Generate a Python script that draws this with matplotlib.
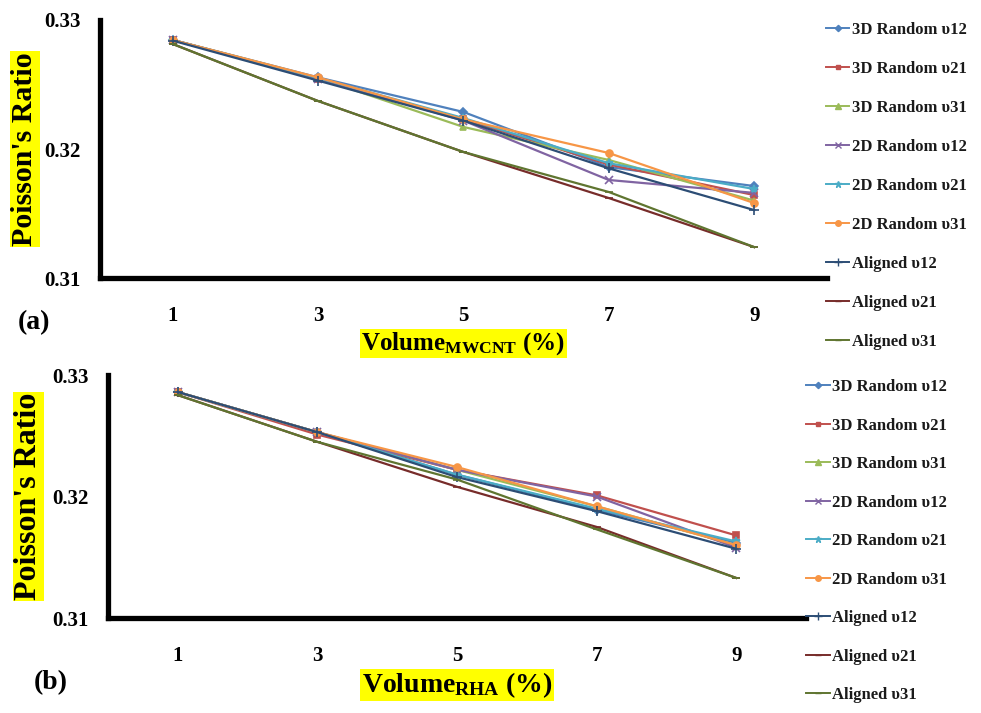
import numpy as np
import matplotlib
matplotlib.use("Agg")
import matplotlib.pyplot as plt
from matplotlib.lines import Line2D

plt.rcParams['font.family'] = ['Liberation Serif', 'DejaVu Serif']
plt.rcParams['font.weight'] = 'bold'
plt.rcParams['axes.labelweight'] = 'bold'
plt.rcParams['mathtext.fontset'] = 'custom'
plt.rcParams['mathtext.rm'] = 'Liberation Serif:bold'
plt.rcParams['mathtext.bf'] = 'Liberation Serif:bold'
plt.rcParams['mathtext.it'] = 'Liberation Serif:bold'

categories = ['1', '3', '5', '7', '9']
series_names = ['3D Random \u03c512', '3D Random \u03c521', '3D Random \u03c531',
                '2D Random \u03c512', '2D Random \u03c521', '2D Random \u03c531',
                'Aligned \u03c512', 'Aligned \u03c521', 'Aligned \u03c531']

# Panel (a): MWCNT
a_3d_v12 = [0.32845, 0.32555, 0.32287, 0.31860, 0.31713]
a_3d_v21 = [0.32845, 0.32545, 0.32230, 0.31880, 0.31643]
a_3d_v31 = [0.32845, 0.32550, 0.32171, 0.31915, 0.31600]
a_2d_v12 = [0.32845, 0.32545, 0.32220, 0.31760, 0.31660]
a_2d_v21 = [0.32845, 0.32550, 0.32240, 0.31890, 0.31690]
a_2d_v31 = [0.32845, 0.32555, 0.32230, 0.31969, 0.31581]
a_al_v12 = [0.32840, 0.32530, 0.32220, 0.31850, 0.31527]
a_al_v21 = [0.32814, 0.32372, 0.31977, 0.31620, 0.31240]
a_al_v31 = [0.32814, 0.32372, 0.31977, 0.31667, 0.31240]

# Panel (b): RHA
b_3d_v12 = [0.32860, 0.32530, 0.32180, 0.31890, 0.31620]
b_3d_v21 = [0.32860, 0.32510, 0.32220, 0.32010, 0.31680]
b_3d_v31 = [0.32860, 0.32530, 0.32220, 0.31920, 0.31600]
b_2d_v12 = [0.32860, 0.32530, 0.32220, 0.32000, 0.31580]
b_2d_v21 = [0.32860, 0.32530, 0.32180, 0.31900, 0.31630]
b_2d_v31 = [0.32860, 0.32530, 0.32243, 0.31920, 0.31600]
b_al_v12 = [0.32860, 0.32530, 0.32160, 0.31880, 0.31570]
b_al_v21 = [0.32835, 0.32450, 0.32080, 0.31750, 0.31330]
b_al_v31 = [0.32835, 0.32450, 0.32140, 0.31730, 0.31330]

panel_a = [a_3d_v12, a_3d_v21, a_3d_v31, a_2d_v12, a_2d_v21, a_2d_v31, a_al_v12, a_al_v21, a_al_v31]
panel_b = [b_3d_v12, b_3d_v21, b_3d_v31, b_2d_v12, b_2d_v21, b_2d_v31, b_al_v12, b_al_v21, b_al_v31]

colors = ['#4F81BD', '#C0504D', '#9BBB59', '#8064A2', '#4BACC6', '#F79646',
          '#2C4D75', '#772C2A', '#5F7530']
markers = ['D', 's', '^', 'x', '*', 'o', '+', '_', '_']
msizes = [4, 4, 5, 6, 6, 5, 7, 6, 6]

fig = plt.figure(figsize=(9.81, 7.13), dpi=100)

def draw(rect, data, xlab, panel_label, label_xy, legend_top, legend_x, spacing,
         ylab_x, ylab_size, xlab_size):
    ax = fig.add_axes(rect)
    x = np.arange(len(categories))
    for vals, c, m, ms, name in zip(data, colors, markers, msizes, series_names):
        ax.plot(x, vals, color=c, marker=m, markersize=ms, linewidth=1.6,
                markeredgewidth=1.2, label=name)
    ax.set_xlim(-0.5, 4.5)
    ax.set_ylim(0.31, 0.33)
    ax.set_yticks([0.31, 0.32, 0.33])
    ax.set_yticklabels(['0.31', '0.32', '0.33'])
    ax.set_xticks(x)
    ax.set_xticklabels(categories)
    ax.tick_params(length=0, labelsize=15)
    ax.tick_params(axis='y', pad=14)
    ax.tick_params(axis='x', pad=20)
    for s in ['top', 'right']:
        ax.spines[s].set_visible(False)
    for s in ['left', 'bottom']:
        ax.spines[s].set_linewidth(3.8)
        ax.spines[s].set_color('black')
    ax.set_ylabel("Poisson's Ratio", fontsize=ylab_size, fontweight='bold',
                  bbox=dict(facecolor='#FFFF00', edgecolor='none', pad=1))
    ax.yaxis.set_label_coords(ylab_x, 0.5)
    ax.set_xlabel(xlab, fontsize=xlab_size, fontweight='bold', labelpad=3,
                  bbox=dict(facecolor='#FFFF00', edgecolor='none', pad=1))
    fig.text(label_xy[0], label_xy[1], panel_label, fontsize=20, fontweight='bold',
             ha='left', va='center')
    handles = [Line2D([0], [0], color=c, marker=m, markersize=ms * 0.8, linewidth=1.4,
                      markeredgewidth=1.0)
               for c, m, ms in zip(colors, markers, msizes)]
    leg = fig.legend(handles, series_names, loc='upper left',
                     bbox_to_anchor=(legend_x, legend_top), frameon=False,
                     fontsize=12, handlelength=1.4, handletextpad=0.15,
                     labelspacing=spacing, borderaxespad=0, borderpad=0)
    for t in leg.get_texts():
        t.set_color('#1a1a1a')
    return ax

draw([0.1019, 0.610, 0.741, 0.362], panel_a, r"Volume$_{\mathrm{MWCNT}}$ (%)",
     '(a)', (0.018, 0.547), 0.969, 0.842, 1.38, -0.085, 21.5, 18)
draw([0.110, 0.1332, 0.7116, 0.3408], panel_b, r"Volume$_{\mathrm{RHA}}$ (%)",
     '(b)', (0.034, 0.042), 0.468, 0.822, 1.35, -0.093, 23, 20)

fig.savefig('out.png', dpi=100)
